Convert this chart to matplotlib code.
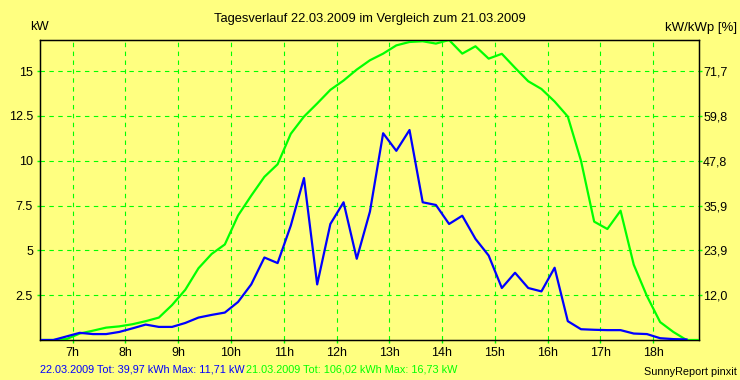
import matplotlib

matplotlib.use("Agg")
import matplotlib.pyplot as plt
import numpy as np

plt.rcParams["font.family"] = ["Liberation Sans", "DejaVu Sans"]

# 15-minute readings, times as HH:MM
times = [
    "06:23", "06:38", "06:53", "07:08", "07:23", "07:38", "07:53", "08:08",
    "08:23", "08:38", "08:53", "09:08", "09:23", "09:38", "09:53", "10:08",
    "10:23", "10:38", "10:53", "11:08", "11:23", "11:38", "11:53", "12:08",
    "12:23", "12:38", "12:53", "13:08", "13:23", "13:38", "13:53", "14:08",
    "14:23", "14:38", "14:53", "15:08", "15:23", "15:38", "15:53", "16:08",
    "16:23", "16:38", "16:53", "17:08", "17:23", "17:38", "17:53", "18:08",
    "18:23", "18:38", "18:53",
]
kw_22 = [
    0.0, 0.0, 0.2, 0.4, 0.33, 0.33, 0.45, 0.65,
    0.86, 0.73, 0.73, 0.95, 1.25, 1.4, 1.53, 2.12,
    3.1, 4.6, 4.29, 6.38, 9.03, 3.1, 6.47, 7.68,
    4.53, 7.16, 11.53, 10.55, 11.71, 7.68, 7.53, 6.47,
    6.93, 5.64, 4.71, 2.9, 3.75, 2.9, 2.71, 4.03,
    1.05, 0.6, 0.57, 0.55, 0.55, 0.36, 0.33, 0.1,
    0.05, 0.03, None,
]
kw_21 = [
    0.0, 0.0, 0.05, 0.36, 0.52, 0.69, 0.76, 0.88,
    1.05, 1.25, 1.95, 2.8, 4.0, 4.8, 5.33, 6.94,
    8.05, 9.1, 9.8, 11.5, 12.46, 13.19, 13.95, 14.47,
    15.08, 15.6, 15.97, 16.43, 16.62, 16.66, 16.53, 16.73,
    15.97, 16.38, 15.69, 15.96, 15.18, 14.43, 14.0, 13.3,
    12.46, 10.0, 6.6, 6.19, 7.21, 4.2, 2.45, 1.0,
    0.45, 0.0, 0.0,
]

hour_ticks = [7, 8, 9, 10, 11, 12, 13, 14, 15, 16, 17, 18]
hour_labels = ["7h", "8h", "9h", "10h", "11h", "12h", "13h", "14h", "15h", "16h", "17h", "18h"]
kw_ticks = [2.5, 5, 7.5, 10, 12.5, 15]
kw_labels = ["2.5", "5", "7.5", "10", "12.5", "15"]
pct_labels = ["12,0", "23,9", "35,9", "47,8", "59,8", "71,7"]

BG = "#FFFF80"
GREEN = "#00FF00"
BLUE = "#0000FF"
W, H = 740, 380


def to_hours(hhmm):
    h, m = hhmm.split(":")
    return int(h) + int(m) / 60


x = np.array([to_hours(t) for t in times])
y22 = np.array([np.nan if v is None else v for v in kw_22])
y21 = np.array(kw_21)

fig = plt.figure(figsize=(W / 100, H / 100), dpi=100, facecolor=BG)
ax = fig.add_axes([40 / W, 40 / H, 659 / W, 300 / H], facecolor=BG)

ax.plot(x, y21, color=GREEN, linewidth=1.6, zorder=3)
ax.plot(x, y22, color=BLUE, linewidth=1.6, zorder=4)

ax.set_xlim(6.38, 18.87)
ax.set_ylim(0, 16.73)
ax.set_xticks(hour_ticks)
ax.set_xticklabels(hour_labels)
ax.set_yticks(kw_ticks)
ax.set_yticklabels(kw_labels)
ax.grid(True, color=GREEN, linestyle=(0, (4, 4)), linewidth=0.8)
ax.tick_params(axis="both", color=GREEN, length=2, width=1, labelsize=9, pad=3)

for spine in ax.spines.values():
    spine.set_color("black")
    spine.set_linewidth(1)

ax2 = ax.twinx()
ax2.set_ylim(ax.get_ylim())
ax2.set_yticks(kw_ticks)
ax2.set_yticklabels(pct_labels)
ax2.tick_params(axis="y", color=GREEN, length=2, width=1, labelsize=9, pad=1)


def px_text(px, py, s, **kw):
    return fig.text(px / W, 1 - py / H, s, **kw)


px_text(370, 19, "Tagesverlauf 22.03.2009 im Vergleich zum 21.03.2009",
        ha="center", va="center", fontsize=9.3)
px_text(30, 27, "kW", ha="left", va="center", fontsize=9.3)
px_text(737, 28, "kW/kWp [%]", ha="right", va="center", fontsize=9.5)

blue_txt = px_text(40, 369, "22.03.2009 Tot: 39,97 kWh Max: 11,71 kW",
                   ha="left", va="center", fontsize=7.8, color=BLUE)
fig.canvas.draw()
blue_end = blue_txt.get_window_extent().x1
px_text(blue_end + 1, 369, "21.03.2009 Tot: 106,02 kWh Max: 16,73 kW",
        ha="left", va="center", fontsize=7.8, color=GREEN)
px_text(737, 372, "SunnyReport pinxit", ha="right", va="center", fontsize=7.8)

fig.savefig("out.png", dpi=100, facecolor=BG)
plt.close(fig)
